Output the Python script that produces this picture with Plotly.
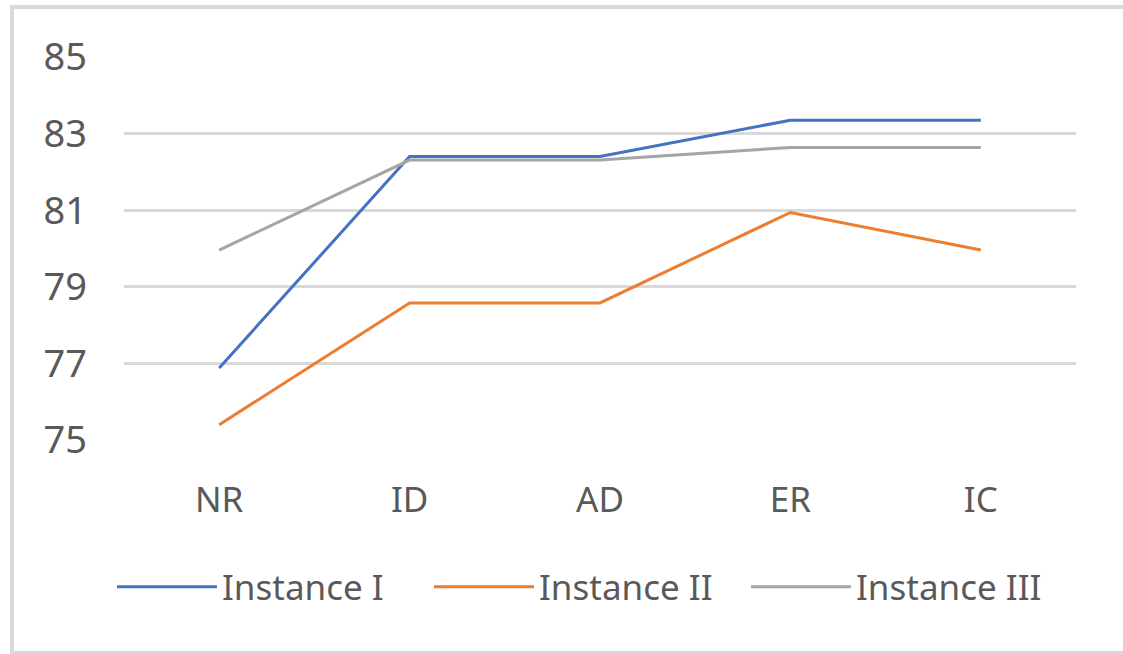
import plotly.graph_objects as go

categories = ["NR", "ID", "AD", "ER", "IC"]
instance_1 = [76.88, 82.40, 82.40, 83.35, 83.35]
instance_2 = [75.40, 78.58, 78.58, 80.94, 79.96]
instance_3 = [79.96, 82.31, 82.31, 82.64, 82.64]
series_names = ["Instance I", "Instance II", "Instance III"]
colors = ["#4472C4", "#ED7D31", "#A5A5A5"]
y_ticks = [75, 77, 79, 81, 83, 85]

W, H = 1123, 654
L, R, T, B = 124, 47, 57, 214
pw, ph = W - L - R, H - T - B

fig = go.Figure()
for name, vals, col in zip(series_names, [instance_1, instance_2, instance_3], colors):
    fig.add_trace(go.Scatter(x=categories, y=vals, mode="lines", name=name,
                             line=dict(color=col, width=3)))

def px_x(p):
    return (p - L) / pw

def px_y(p):
    return (H - B - p) / ph

fig.add_shape(type="rect", xref="paper", yref="paper",
              x0=px_x(12), x1=px_x(1140), y0=px_y(653), y1=px_y(7),
              line=dict(color="#D9D9D9", width=4), layer="below")

fig.update_layout(
    width=W, height=H,
    margin=dict(l=L, r=R, t=T, b=B),
    paper_bgcolor="white", plot_bgcolor="white",
    font=dict(family="Noto Sans", size=36, color="#595959"),
    showlegend=True,
    legend=dict(orientation="h", x=px_x(112), xanchor="left", y=px_y(587), yanchor="middle",
                font=dict(size=35, color="#595959"), itemwidth=100,
                entrywidth=202, traceorder="normal", bgcolor="rgba(0,0,0,0)"),
    xaxis=dict(range=[-0.5, 4.5], showgrid=False, zeroline=False, showline=False,
               ticks="", tickfont=dict(size=35, color="#595959"),
               ticklabelstandoff=36),
    yaxis=dict(range=[75, 85], tickvals=y_ticks, showgrid=True, gridcolor="#D9D9D9",
               gridwidth=2.5, zeroline=False, showline=False, ticks="",
               tickfont=dict(size=38, color="#595959"), ticklabelstandoff=36),
)

fig.write_html("out.html")
